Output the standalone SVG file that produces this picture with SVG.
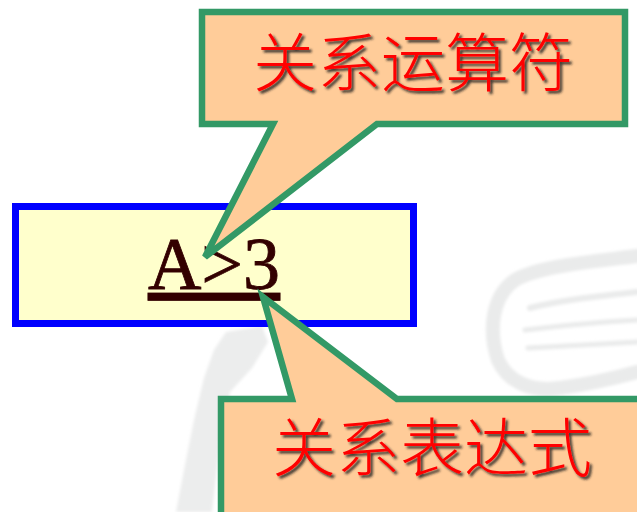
<svg xmlns="http://www.w3.org/2000/svg" width="637" height="512" viewBox="0 0 637 512">
  <style>
    .bubble { fill: #FFCC99; stroke: #339966; stroke-width: 6.5; stroke-linejoin: miter; }
    .label { font-family: "Noto Sans CJK SC", "Noto Sans CJK TC", sans-serif; font-size: 64px; font-weight: 300; fill: #FF0000; text-anchor: middle; filter: url(#shadow); }
    .expr { font-family: "Liberation Serif", "Times New Roman", serif; font-size: 74px; fill: #330000; stroke: #330000; stroke-width: 0.8; text-anchor: middle; text-decoration: underline; }
    .wm { fill: #ECEDED; }
    .wm-line { fill: none; stroke: #EAEBEB; stroke-linecap: round; }
  </style>
  <defs>
    <filter id="shadow" x="-10%" y="-10%" width="120%" height="130%">
      <feDropShadow dx="2.5" dy="2.5" stdDeviation="0.9" flood-color="#222" flood-opacity="0.85"/>
    </filter>
    <filter id="soft" x="-10%" y="-10%" width="120%" height="120%">
      <feGaussianBlur stdDeviation="1.5"/>
    </filter>
  </defs>

  <rect width="637" height="512" fill="#FFFFFF"/>

  <!-- faint background watermark -->
  <g id="watermark" filter="url(#soft)">
    <path class="wm" d="M226,332 L262,326 L268,342 L252,368 L230,392 L220,440 L212,512 L176,512 L184,470 L194,420 L204,378 L214,350 Z"/>
    <path class="wm-line" stroke-width="14" d="M637,256 C590,262 540,266 515,280 C492,296 488,330 498,360 C508,382 530,392 560,388 C590,384 615,378 637,372"/>
    <path class="wm-line" stroke-width="6" d="M530,308 C560,300 600,296 637,292"/>
    <path class="wm-line" stroke-width="5" d="M525,330 C560,326 600,322 637,320"/>
    <path class="wm-line" stroke-width="5" d="M528,348 C560,346 600,344 637,342"/>
  </g>

  <!-- expression box -->
  <g id="expression">
    <rect x="15.5" y="206.5" width="398" height="117" fill="#FFFFCC" stroke="#0000FF" stroke-width="7"/>
    <text class="expr" x="214" y="289">A&gt;3</text>
  </g>

  <!-- callout: relational operator -->
  <g id="callout-operator">
    <path class="bubble" d="M202,12 H625 V124 H377 L205,257 L273,124 H202 Z"/>
    <text class="label" x="413" y="86">关系运算符</text>
  </g>

  <!-- callout: relational expression -->
  <g id="callout-expression">
    <path class="bubble" d="M221,399 H292 L263,297 L397,399 H645 V520 H221 Z"/>
    <text class="label" x="432" y="471">关系表达式</text>
  </g>

  <!-- callout pointers are drawn as tails of the bubbles above -->
  <g id="connectors"/>
</svg>
